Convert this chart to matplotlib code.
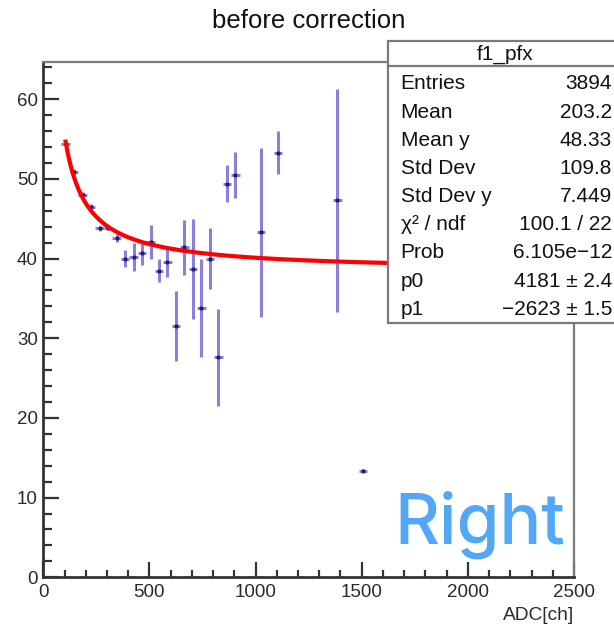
import numpy as np
import matplotlib
matplotlib.use("Agg")
import matplotlib.pyplot as plt
from matplotlib.patches import Rectangle
from matplotlib.ticker import MultipleLocator

# Profile bins (ADC channel centres) with mean value and error on the mean
adc = [105, 145, 185, 225, 265, 305, 345, 385, 425, 465, 505, 545, 585,
       625, 665, 705, 745, 785, 825, 865, 905, 1025, 1105, 1385, 1505]
mean_val = [54.4, 50.9, 48.0, 46.5, 43.8, 43.9, 42.6, 40.0, 40.2, 40.7,
            42.1, 38.5, 39.6, 31.5, 41.4, 38.7, 33.8, 40.0, 27.6, 49.4,
            50.5, 43.3, 53.3, 47.3, 13.4]
mean_err = [0.2, 0.3, 0.3, 0.3, 0.3, 0.3, 0.5, 1.1, 1.7, 1.5, 2.1, 1.4, 1.9,
            4.4, 3.4, 6.3, 6.1, 3.8, 6.1, 2.3, 2.9, 10.6, 2.7, 14.0, 0.15]
bin_half_width = 20

# Fitted curve: offset + scale / ADC
fit_offset = 38.4
fit_scale = 1710.0
fit_range = (105, 2000)

# Statistics box entries
stat_names = ["Entries", "Mean", "Mean y", "Std Dev", "Std Dev y",
              "χ² / ndf", "Prob", "p0", "p1"]
stat_values = ["3894", "203.2", "48.33", "109.8", "7.449",
               "100.1 / 22", "6.105e\u221212", "4181 ± 2.4", "\u22122623 ± 1.5"]

W, H = 614, 626
fig = plt.figure(figsize=(W / 100, H / 100), dpi=100)
plt.rcParams['font.family'] = ['Liberation Sans', 'DejaVu Sans']

ax = fig.add_axes([43.3 / W, 1 - 577.3 / H, (574 - 43.3) / W, (577.3 - 62.3) / H])
ax.set_xlim(0, 2500)
ax.set_ylim(0, 64.64)

ax.errorbar(adc, mean_val, yerr=mean_err, xerr=bin_half_width, fmt='o',
            ms=2.0, mfc='#1c1c78', mec='#1c1c78', ecolor='#8a80dc',
            elinewidth=2.2, capsize=0, zorder=2)

xf = np.linspace(fit_range[0], fit_range[1], 400)
ax.plot(xf, fit_offset + fit_scale / xf, color='#ff0000', lw=3.0, zorder=3)

ax.xaxis.set_major_locator(MultipleLocator(500))
ax.xaxis.set_minor_locator(MultipleLocator(100))
ax.yaxis.set_major_locator(MultipleLocator(10))
ax.yaxis.set_minor_locator(MultipleLocator(2))
ax.tick_params(which='both', direction='in', top=False, right=False,
               color='#333333', labelsize=13.5, labelcolor='#2a2a2a')
ax.tick_params(axis='y', which='major', length=11.5, width=1.6, pad=4)
ax.tick_params(axis='y', which='minor', length=6.7, width=1.6)
ax.tick_params(axis='x', which='major', length=10.8, width=1.6, pad=5)
ax.tick_params(axis='x', which='minor', length=5.3, width=1.6)

for side in ('left', 'bottom'):
    ax.spines[side].set_color('#333333')
    ax.spines[side].set_linewidth(2.0)
for side in ('top', 'right'):
    ax.spines[side].set_color('#7a7a7a')
    ax.spines[side].set_linewidth(1.6)

# Overlay in pixel coordinates for title, labels and stats box
ov = fig.add_axes([0, 0, 1, 1], zorder=10)
ov.set_xlim(0, W)
ov.set_ylim(H, 0)
ov.axis('off')
ov.patch.set_alpha(0)

ov.text(309, 28, "before correction", fontsize=18.5, ha='center',
        va='baseline', color='#111111')
ov.text(574, 620, "ADC[ch]", fontsize=13.8, ha='right', va='baseline',
        color='#2a2a2a')

box_left, box_top, box_bottom = 388, 41, 323
ov.add_patch(Rectangle((box_left, box_top), 260, box_bottom - box_top,
                       facecolor='white', edgecolor='#7a7a7a', lw=1.6))
ov.plot([box_left, W + 10], [66, 66], color='#7a7a7a', lw=1.6)
ov.text(505, 59.3, "f1_pfx", fontsize=15, ha='center', va='baseline',
        color='#111111')
for i, (name, val) in enumerate(zip(stat_names, stat_values)):
    yb = 89.3 + 28.2 * i
    ov.text(400.7, yb, name, fontsize=15, ha='left', va='baseline',
            color='#111111')
    ov.text(612, yb, val, fontsize=15, ha='right', va='baseline',
            color='#111111')

ov.text(394, 543.3, "Right", fontsize=50, ha='left', va='baseline',
        color='#52a8f5', family=['Inter', 'DejaVu Sans'], fontweight='medium')

fig.savefig("out.png", dpi=100)
